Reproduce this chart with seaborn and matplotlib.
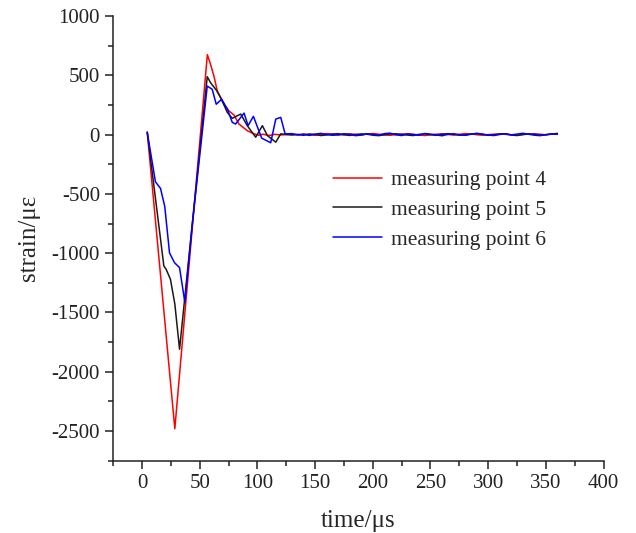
import matplotlib
matplotlib.use("Agg")
import matplotlib.pyplot as plt
from matplotlib.ticker import MultipleLocator
import seaborn as sns
import pandas as pd

# time axis (us) and strain (ue)
TAIL_T = [130, 135, 140, 145, 150, 155, 160, 165, 170, 175,
          180, 185, 190, 195, 200, 205, 210, 215, 220, 225,
          230, 235, 240, 245, 250, 255, 260, 265, 270, 275,
          280, 285, 290, 295, 300, 305, 310, 315, 320, 325,
          330, 335, 340, 345, 350, 355, 360]

p4_t = [4.5, 28.4, 56.6, 59.4, 62.3, 65.2, 71, 75.3, 79.7, 84, 91.2, 97, 101, 105, 110, 115, 120]
p4_v = [20, -2480, 674, 591, 493, 368, 256, 200, 165, 89, 33, 6, -5, 3, -8, 2, -3]
p4_tail = [3, -2, 5, 0, -6, 2, 8, 4, -3, 0,
           6, 2, -4, 5, 9, 3, -2, -6, 0, 4,
           7, 2, -3, -8, -2, 3, 6, 1, -4, 2,
           8, 5, -1, -5, 0, 3, 6, 2, -3, -6,
           1, 4, 7, 3, -2, 5, 8]

p5_t = [4.5, 18.9, 20.9, 24.6, 28.4, 32.5, 56.5, 59.4, 64.3, 68.1, 73.9, 78.2,
        85.5, 91.2, 98.5, 104.3, 108.6, 115.9, 120.2]
p5_v = [20, -1108, -1136, -1220, -1428, -1810, 488, 437, 376, 312, 187, 137,
        173, 75, -22, 75, -8, -64, 6]
p5_tail = [-4, 2, -6, 5, 1, -8, -3, 4, 8, -2,
           -7, 0, 6, 3, -5, -9, -2, 5, 7, 1,
           -4, -8, 2, 6, -1, -6, 3, 8, 2, -5,
           -3, 4, 9, 1, -6, -2, 5, 7, -3, -8,
           0, 6, 2, -5, -2, 4, 10]

p6_t = [4.5, 11.6, 16, 19.7, 23.8, 28.1, 32.5, 37.1, 43.5, 56.5, 60.8, 64.3, 69,
        73.9, 78.2, 81.1, 88.4, 91.9, 96.5, 103.7, 111.5, 115.9, 120.2, 124]
p6_v = [20, -398, -454, -607, -997, -1080, -1122, -1414, -760, 409, 382, 256, 298,
        215, 103, 89, 181, 75, 154, -30, -69, 131, 145, 6]
p6_tail = [8, -3, 2, -7, 4, 10, 1, -6, -2, 7,
           3, -9, -4, 6, 2, -5, 8, 12, -2, -8,
           5, 1, -6, 9, 4, -3, -10, 2, 7, -1,
           -6, 3, 10, 5, -4, -8, 1, 6, -2, 4,
           11, 3, -5, -9, 0, 6, 2]

labels = ['measuring point 4', 'measuring point 5', 'measuring point 6']
colors = ['#ff0000', '#1a1a1a', '#0000ff']

rows = []
for lab, t, v, tail in zip(labels, [p4_t, p5_t, p6_t], [p4_v, p5_v, p6_v],
                           [p4_tail, p5_tail, p6_tail]):
    for x, y in zip(t + TAIL_T, v + tail):
        rows.append([lab, x, y])
df = pd.DataFrame(rows, columns=['series', 'time', 'strain'])

sns.set_style("ticks")
plt.rcParams['font.family'] = ['Liberation Serif', 'DejaVu Serif']
plt.rcParams['axes.unicode_minus'] = False

fig = plt.figure(figsize=(6.36, 5.33), dpi=100)
ax = fig.add_axes([0.178, 0.1356, 0.771, 0.8344])

sns.lineplot(ax=ax, data=df, x='time', y='strain', hue='series', hue_order=labels,
             palette=colors, estimator=None, sort=False, linewidth=1.1)

ax.set_xlim(-25, 400)
ax.set_ylim(-2750, 1000)
ax.xaxis.set_major_locator(MultipleLocator(50))
ax.xaxis.set_minor_locator(MultipleLocator(25))
ax.yaxis.set_major_locator(MultipleLocator(500))
ax.yaxis.set_minor_locator(MultipleLocator(250))
ax.tick_params(which='major', direction='out', length=6, width=1.1, labelsize=15, colors='#222222')
ax.tick_params(which='minor', direction='out', length=3.5, width=1.1, colors='#222222')
for s in ['left', 'bottom']:
    ax.spines[s].set_linewidth(1.1)
    ax.spines[s].set_color('#222222')
sns.despine(ax=ax)

ax.set_xlabel('time/μs', fontsize=18, labelpad=12)
ax.set_ylabel('strain/με', fontsize=18, labelpad=8)

leg = ax.legend(loc='center left', bbox_to_anchor=(0.448, 0.564), frameon=False,
                fontsize=15.5, handlelength=2.3, handletextpad=0.4, labelspacing=0.45,
                borderpad=0, borderaxespad=0)

fig.savefig('out.png', dpi=100, facecolor='white')
